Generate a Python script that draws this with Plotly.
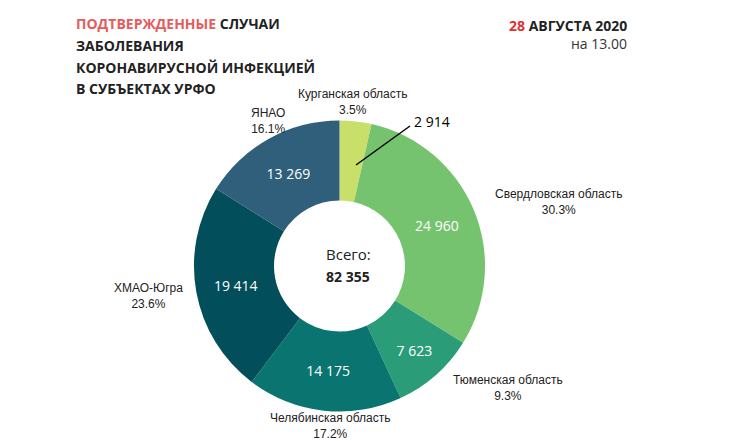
import plotly.graph_objects as go

regions = ["Курганская область", "Свердловская область", "Тюменская область",
           "Челябинская область", "ХМАО-Югра", "ЯНАО"]
cases = [2914, 24960, 7623, 14175, 19414, 13269]
colors = ["#c8e06a", "#76c36f", "#2a9d78", "#0a7570", "#024e5a", "#2f5f7a"]
total = sum(cases)

texts = ["" if c == 2914 else f"{c:,}".replace(",", " ") for c in cases]

fig = go.Figure(go.Pie(
    labels=regions, values=cases, text=texts, textinfo="text",
    hole=0.45, sort=False, direction="clockwise", rotation=0,
    marker=dict(colors=colors, line=dict(color="white", width=0)),
    textposition="inside", insidetextorientation="horizontal",
    textfont=dict(family="Open Sans", size=14, color="white"),
    domain=dict(x=[0.246, 0.656], y=[0.085, 0.745]), showlegend=False,
))

W, H = 735, 441
def ann(x, y, t, size=12, color="#222", align="center", xa="center", fam="Liberation Sans"):
    fig.add_annotation(x=x / W, y=1 - y / H, xref="paper", yref="paper", text=t,
                       showarrow=False, align=align, xanchor=xa, yanchor="middle",
                       font=dict(size=size, color=color, family=fam))

pct = [f"{c / total * 100:.1f}%" for c in cases]
ann(344, 94, f"{regions[0]}<br>{pct[0]}")
ann(550, 194, f"{regions[1]}<br>{pct[1]}")
ann(500, 380, f"{regions[2]}<br>{pct[2]}")
ann(322, 418, f"{regions[3]}<br>{pct[3]}")
ann(140, 288, f"{regions[4]}<br>{pct[4]}")
ann(260, 113, f"{regions[5]}<br>{pct[5]}")

ann(404, 113, "2 914", size=14, color="black", xa="left", fam="Open Sans")
fig.add_shape(type="line", xref="paper", yref="paper", x0=348 / W, y0=1 - 157 / H,
              x1=402 / W, y1=1 - 118 / H, line=dict(color="black", width=1.5))

ann(340, 246, "Всего:", size=15, fam="Open Sans")
ann(340, 268, f"<b>{total:,}</b>".replace(",", " "), size=14, fam="Open Sans")

title = ["<span style='color:#e35d5d'>ПОДТВЕРЖДЕННЫЕ</span> СЛУЧАИ", "ЗАБОЛЕВАНИЯ",
         "КОРОНАВИРУСНОЙ ИНФЕКЦИЕЙ", "В СУБЪЕКТАХ УРФО"]
for i, t in enumerate(title):
    ann(66, 16 + i * 21.5, f"<b>{t}</b>", size=14, color="#222", align="left", xa="left", fam="Open Sans")

fig.add_annotation(x=621 / W, y=1 - 17 / H, xref="paper", yref="paper", showarrow=False,
                   text="<b><span style='color:#e03030'>28</span> АВГУСТА 2020</b>",
                   xanchor="right", yanchor="middle", font=dict(size=14, color="#222", family="Open Sans"))
fig.add_annotation(x=621 / W, y=1 - 36 / H, xref="paper", yref="paper", showarrow=False,
                   text="на 13.00", xanchor="right", yanchor="middle",
                   font=dict(size=14, color="#333", family="Open Sans"))

fig.update_layout(width=W, height=H, margin=dict(l=0, r=0, t=0, b=0),
                  paper_bgcolor="white", plot_bgcolor="white")
fig.write_html("out.html")
